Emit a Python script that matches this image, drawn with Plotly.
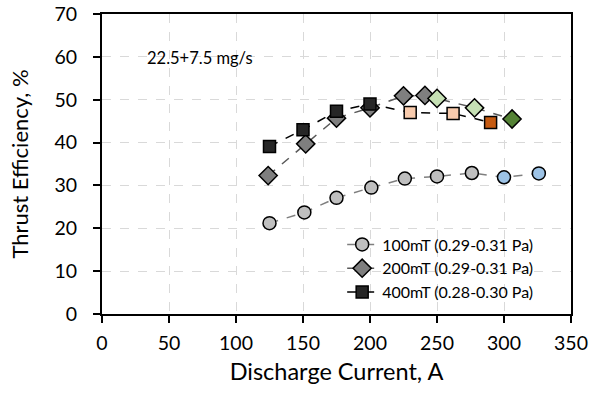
import plotly.graph_objects as go

# Data
x100 = [125, 151, 175, 201, 226, 250, 276, 300, 326]
y100 = [21.2, 23.7, 27.1, 29.5, 31.6, 32.1, 32.9, 31.9, 32.8]
c100 = ["#BFBFBF"] * 7 + ["#9DC3E6"] * 2

x200 = [124, 152, 175, 200, 225, 241, 250, 278, 306]
y200 = [32.3, 39.7, 45.7, 48.1, 50.9, 51.0, 50.3, 48.1, 45.5]
c200 = ["#7F7F7F"] * 6 + ["#C5E0B4"] * 2 + ["#548235"]

x400 = [125, 150, 175, 200, 230, 262, 290]
y400 = [39.1, 43.0, 47.3, 49.0, 47.0, 46.8, 44.7]
c400 = ["#262626"] * 4 + ["#F8CBAD"] * 2 + ["#C55A11"]

names = ["100mT (0.29-0.31 Pa)", "200mT (0.29-0.31 Pa)", "400mT (0.28-0.30 Pa)"]

FONT = "Lato, Noto Sans, sans-serif"

fig = go.Figure()
fig.add_trace(go.Scatter(x=x100, y=y100, name=names[0], mode="lines+markers",
                         line=dict(color="#7F7F7F", width=1.5, dash="dash"),
                         marker=dict(symbol="circle", size=13, color=c100,
                                     line=dict(color="black", width=1.5))))
fig.add_trace(go.Scatter(x=x200, y=y200, name=names[1], mode="lines+markers",
                         line=dict(color="#595959", width=1.5, dash="dash"),
                         marker=dict(symbol="diamond", size=14, color=c200,
                                     line=dict(color="black", width=1.5))))
fig.add_trace(go.Scatter(x=x400, y=y400, name=names[2], mode="lines+markers",
                         line=dict(color="black", width=1.5, dash="dash"),
                         marker=dict(symbol="square", size=12, color=c400,
                                     line=dict(color="black", width=1.5))))

fig.add_annotation(x=0.092, y=0.853, xref="paper", yref="paper", text="22.5+7.5 mg/s",
                   showarrow=False, xanchor="left", yanchor="middle",
                   font=dict(family=FONT, size=16.5, color="black"))

fig.update_layout(
    width=590, height=398,
    margin=dict(l=102, r=19, t=14, b=84),
    paper_bgcolor="white", plot_bgcolor="white",
    font=dict(family=FONT, color="black"),
    legend=dict(x=0.93, y=0.015, xanchor="right", yanchor="bottom",
                bgcolor="rgba(255,255,255,0)", font=dict(size=16, family=FONT),
                tracegroupgap=0),
    xaxis=dict(range=[0, 350], dtick=50, tick0=0, automargin=False,
               showline=True, linecolor="black", linewidth=2, mirror=True,
               ticks="outside", tickcolor="black", ticklen=7, tickwidth=1.5,
               showgrid=True, gridcolor="#D9D9D9", griddash="dash", gridwidth=1,
               zeroline=False,
               tickfont=dict(size=19.5, family=FONT), ticklabelstandoff=4,
               title=dict(text="Discharge Current, A", font=dict(size=23.5, family=FONT), standoff=10)),
    yaxis=dict(range=[0, 70], dtick=10, tick0=0, automargin=False,
               showline=True, linecolor="black", linewidth=2, mirror=True,
               ticks="outside", tickcolor="black", ticklen=7, tickwidth=1.5,
               showgrid=True, gridcolor="#D9D9D9", griddash="dash", gridwidth=1,
               zeroline=False,
               tickfont=dict(size=19.5, family=FONT), ticklabelstandoff=12,
               title=dict(text="Thrust Efficiency, %", font=dict(size=22, family=FONT), standoff=20)),
)

fig.write_html("out.html")
